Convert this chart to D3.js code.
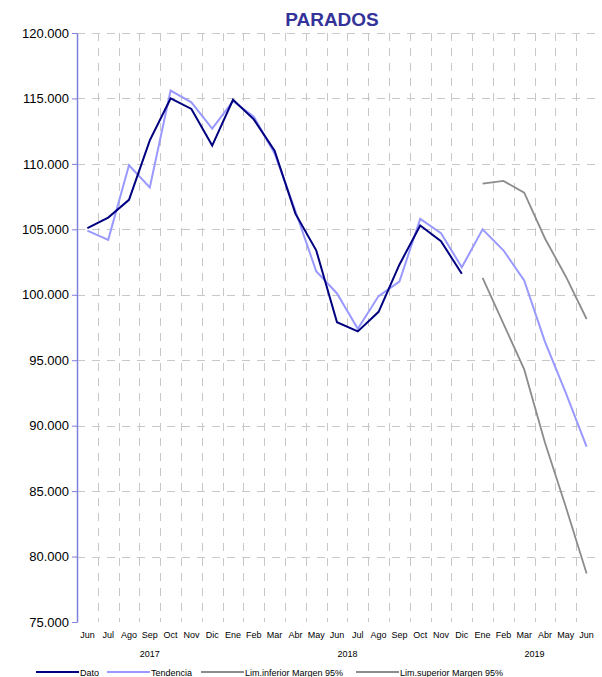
<!DOCTYPE html>
<html>
<head>
<meta charset="utf-8">
<script src="https://cdn.jsdelivr.net/npm/d3@7"></script>
<style>
  html, body { margin: 0; padding: 0; background: #fff; }
  svg { display: block; font-family: Arial, "Liberation Sans", Helvetica, sans-serif; }
</style>
</head>
<body>
<svg id="chart" width="602" height="677"></svg>
<script>
// Monthly periods, Jun 2017 – Jun 2019
const months = ["Jun","Jul","Ago","Sep","Oct","Nov","Dic","Ene","Feb","Mar","Abr","May",
                "Jun","Jul","Ago","Sep","Oct","Nov","Dic","Ene","Feb","Mar","Abr","May","Jun"];
const years = ["2017","2018","2019"];
const yearFirst = [0, 7, 19];
const yearLast = [6, 18, 24];

// Series values (number of unemployed)
const dato = [105100,105900,107250,111800,115000,114200,111400,114900,113400,111000,106200,103400,
              97900,97200,98700,102300,105300,104100,101600,
              null,null,null,null,null,null];
const tendencia = [104900,104200,109900,108200,115600,114700,112700,114800,113600,110800,106400,101800,
                   100100,97400,99900,101000,105800,104700,102100,
                   105000,103400,101100,96400,92500,88400];
const limInferior = [null,null,null,null,null,null,null,null,null,null,null,null,
                     null,null,null,null,null,null,null,
                     101300,97800,94300,88700,83800,78700];
const limSuperior = [null,null,null,null,null,null,null,null,null,null,null,null,
                     null,null,null,null,null,null,null,
                     108500,108700,107800,104300,101400,98150];

const yTicks = [75000,80000,85000,90000,95000,100000,105000,110000,115000,120000];

const seriesNames = ["Dato","Tendencia","Lim.inferior Margen 95%","Lim.superior Margen 95%"];
const seriesColors = ["#000080","#9999ff","#8c8c8c","#8c8c8c"];
const seriesValues = [dato, tendencia, limInferior, limSuperior];

const svg = d3.select("#chart");
const plotLeft = 77, plotRight = 597, plotTop = 33, plotBottom = 622;

const idx = d3.range(months.length);
const x = d3.scaleBand().domain(idx).range([plotLeft, plotRight]);
const y = d3.scaleLinear().domain([75000, 120000]).range([plotBottom, plotTop]);
const cx = i => x(i) + x.bandwidth() / 2;

const loc = d3.formatLocale({decimal: ",", thousands: ".", grouping: [3], currency: ["", ""]});
const fmt = loc.format(",");

// Title
svg.append("text")
  .attr("x", 332).attr("y", 26)
  .attr("text-anchor", "middle")
  .attr("font-size", 19).attr("font-weight", "bold")
  .attr("fill", "#333399")
  .text("PARADOS");

// Grid
const grid = svg.append("g").attr("stroke", "#c8c8c8").attr("stroke-width", 1)
  .attr("stroke-dasharray", "8,7").attr("fill", "none");
grid.selectAll("line.h").data(yTicks.filter(t => t > 75000)).join("line")
  .attr("class", "h")
  .attr("x1", plotLeft).attr("x2", plotRight)
  .attr("y1", d => Math.round(y(d)) + 0.5).attr("y2", d => Math.round(y(d)) + 0.5);
grid.selectAll("line.v").data(idx.slice(1)).join("line")
  .attr("class", "v")
  .attr("x1", d => Math.round(x(d)) + 0.5).attr("x2", d => Math.round(x(d)) + 0.5)
  .attr("y1", plotTop).attr("y2", plotBottom);

// Y axis
const yAxis = svg.append("g")
  .attr("transform", `translate(${plotLeft},0)`)
  .call(d3.axisLeft(y).tickValues(yTicks).tickFormat(fmt).tickSize(5).tickSizeOuter(0).tickPadding(3));
yAxis.select(".domain").attr("stroke", "#7f7fdc").attr("stroke-width", 1.5);
yAxis.selectAll(".tick line").attr("stroke", "#7f7fdc");
yAxis.selectAll(".tick text").attr("font-size", 13).attr("fill", "#000")
  .attr("font-family", "Arial, 'Liberation Sans', sans-serif");

// X axis month labels
const xAxis = svg.append("g")
  .attr("transform", `translate(0,${plotBottom})`)
  .call(d3.axisBottom(x).tickFormat(i => months[i]).tickSize(0).tickPadding(10));
xAxis.select(".domain").remove();
xAxis.selectAll(".tick text").attr("font-size", 9).attr("fill", "#000")
  .attr("font-family", "Arial, 'Liberation Sans', sans-serif");

// Year labels centred under their months
svg.append("g").selectAll("text").data(years).join("text")
  .attr("x", (d, k) => (cx(yearFirst[k]) + cx(yearLast[k])) / 2)
  .attr("y", 657)
  .attr("text-anchor", "middle")
  .attr("font-size", 9).attr("fill", "#000")
  .text(d => d);

// Lines
const line = d3.line()
  .defined(d => d.v !== null)
  .x(d => cx(d.i))
  .y(d => y(d.v));

svg.append("g").selectAll("path").data([3, 2, 1, 0]).join("path")
  .attr("fill", "none")
  .attr("stroke", k => seriesColors[k])
  .attr("stroke-width", k => k === 0 ? 2 : (k === 1 ? 2 : 1.8))
  .attr("stroke-linejoin", "miter")
  .attr("d", k => line(seriesValues[k].map((v, i) => ({i, v}))));

// Legend
const legendX = [36, 107, 201, 356];
const lg = svg.append("g").selectAll("g").data(seriesNames).join("g")
  .attr("transform", (d, k) => `translate(${legendX[k]},672)`);
lg.append("line")
  .attr("x1", 0).attr("x2", 43).attr("y1", 0).attr("y2", 0)
  .attr("stroke", (d, k) => seriesColors[k]).attr("stroke-width", 2);
lg.append("text")
  .attr("x", 44).attr("y", 3.5)
  .attr("font-size", 9).attr("fill", "#000")
  .text(d => d);
</script>
</body>
</html>
